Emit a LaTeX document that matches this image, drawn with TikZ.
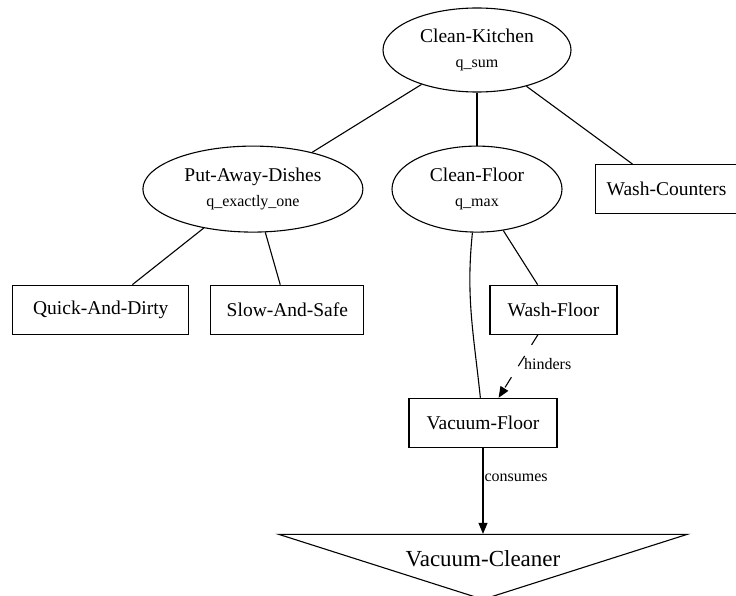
\documentclass[tikz,border=0pt]{standalone}
\usepackage{fontspec}
\setmainfont{Liberation Serif}
\usetikzlibrary{shapes.geometric, positioning, arrows.meta}
\newcommand{\qtag}[1]{{\fontsize{16pt}{18pt}\selectfont #1}}
\newcommand{\flatText}[1]{\smash{\makebox[0pt]{#1}}}
\tikzset{
  goalNode/.style={ellipse, draw=black, line width=1.1pt, align=center, font=\fontsize{19.5pt}{24pt}\selectfont, inner sep=0pt},
  taskBox/.style={rectangle, draw=black, line width=1.1pt, minimum height=49pt, align=center, font=\fontsize{19.5pt}{24pt}\selectfont, inner sep=0pt},
  resTri/.style={isosceles triangle, shape border rotate=-90, isosceles triangle stretches, draw=black, line width=1.1pt, inner sep=0pt, font=\fontsize{23pt}{27pt}\selectfont},
  treeEdge/.style={line width=1.1pt},
  relArr/.style={line width=1.1pt, -{Triangle[length=11pt, width=9pt]}, font=\fontsize{16pt}{18pt}\selectfont},
}
\begin{document}
\begin{tikzpicture}
\useasboundingbox (0,0) rectangle (736pt,-596pt);
\node (ck) [goalNode, minimum width=188pt, minimum height=84pt] at (477pt,-50pt) {Clean-Kitchen\\[1pt]\qtag{q\_sum}};
\node (cf) [goalNode, minimum width=170pt, minimum height=86pt, below=53pt of ck] {Clean-Floor\\[1pt]\qtag{q\_max}};
\node (pad) [goalNode, minimum width=220pt, minimum height=86pt, left=28pt of cf] {Put-Away-Dishes\\[1pt]\qtag{q\_exactly\_one}};
\node (wc) [taskBox, minimum width=143pt, right=32pt of cf] {Wash-Counters};
\node (sas) [taskBox, minimum width=153pt, below=52pt of pad, xshift=34.5pt] {Slow-And-Safe};
\node (qd) [taskBox, minimum width=176pt, left=21pt of sas] {Quick-And-Dirty};
\node (wf) [taskBox, minimum width=127pt, below=52pt of cf, xshift=76.5pt] {Wash-Floor};
\node (vf) [taskBox, minimum width=148pt, below=63pt of wf, xshift=-70.5pt] {Vacuum-Floor};
\node (vc) [resTri, minimum width=408pt, minimum height=65pt, below=86pt of vf] {\flatText{Vacuum-Cleaner}};

\draw [treeEdge] (ck) -- (pad);
\draw [treeEdge] (ck) -- (cf);
\draw [treeEdge] (ck) -- (wc);
\draw [treeEdge] (pad) -- (qd);
\draw [treeEdge] (pad) -- (sas);
\draw [treeEdge] (cf) -- (wf);
\draw [treeEdge] (cf) to[out=-96, in=96] (vf);
\draw [relArr, dash pattern=on 12pt off 13pt] (wf) -- node[right, pos=0.5, xshift=2pt, yshift=2pt]{hinders} (vf);
\draw [relArr] (vf) -- node[right, pos=0.35, inner sep=1pt]{consumes} (vc);
\end{tikzpicture}
\end{document}
